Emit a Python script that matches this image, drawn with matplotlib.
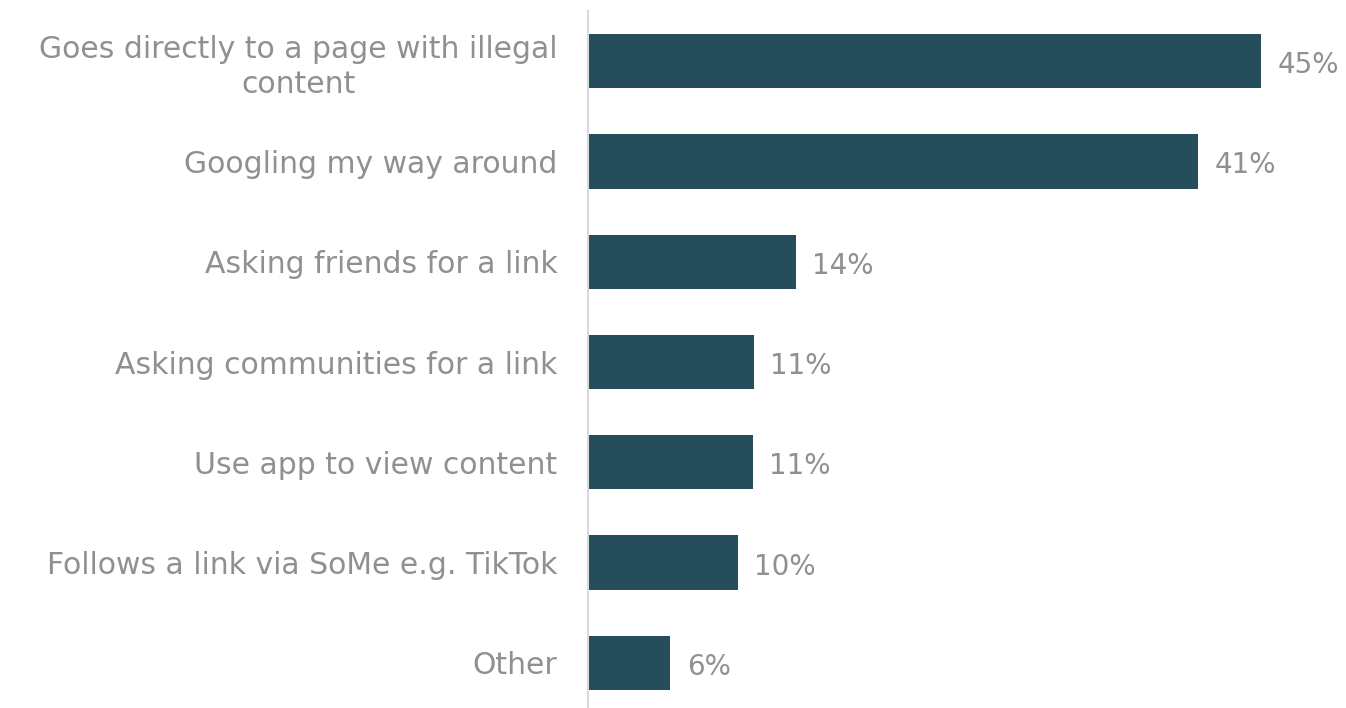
import numpy as np
import matplotlib.pyplot as plt

# --- data ---
categories = [
    "Goes directly to a page with illegal\ncontent",
    "Googling my way around",
    "Asking friends for a link",
    "Asking communities for a link",
    "Use app to view content",
    "Follows a link via SoMe e.g. TikTok",
    "Other",
]
values = [45.0, 40.8, 13.9, 11.1, 11.0, 10.0, 5.5]
labels = ["45%", "41%", "14%", "11%", "11%", "10%", "6%"]

bar_color = "#264D5C"
text_color = "#909090"

plt.rcParams['font.family'] = ['DejaVu Sans']

fig = plt.figure(figsize=(13.46, 7.08), dpi=100)
ax = fig.add_axes([588 / 1346, -5 / 708, (1261 - 588) / 1346, 1 - 11 / 708 + 5 / 708])

y = np.arange(len(categories))
ax.barh(y, values, height=0.54, color=bar_color)

for yi, v, lab in zip(y, values, labels):
    ax.text(v + 1.1, yi + 0.04, lab, va='center', ha='left', fontsize=20,
            color=text_color, clip_on=False)

ax.set_yticks(y)
ax.set_yticklabels(categories, fontsize=21.5, color=text_color, linespacing=1.25)
for t in ax.get_yticklabels():
    t.set_multialignment('center')
ax.tick_params(axis='y', length=0, pad=22)
ax.tick_params(axis='x', bottom=False, labelbottom=False)

ax.set_xlim(0, 45)
ax.set_ylim(6.5, -0.5)
for s in ['top', 'right', 'bottom']:
    ax.spines[s].set_visible(False)
ax.spines['left'].set_color('#D9D9D9')
ax.spines['left'].set_linewidth(1.5)

fig.savefig('out.png', dpi=100)
